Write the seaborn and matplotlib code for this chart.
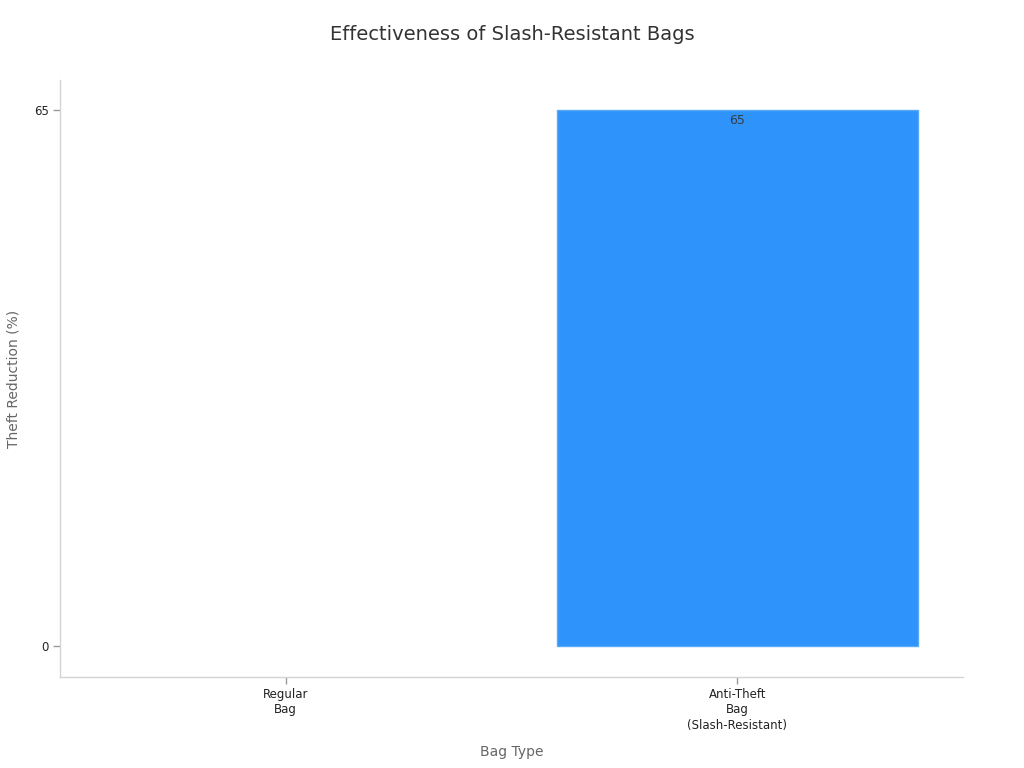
import matplotlib
matplotlib.use("Agg")
import matplotlib.pyplot as plt
import seaborn as sns
import pandas as pd

# chart data
categories = ["Regular\nBag", "Anti-Theft\nBag\n(Slash-Resistant)"]
theft_reduction = [0, 65]
y_ticks = [0, 65]

df = pd.DataFrame({"Bag Type": categories, "Theft Reduction (%)": theft_reduction})

sns.set_style("white")
plt.rcParams["font.family"] = ["DejaVu Sans"]

fig = plt.figure(figsize=(10.24, 7.68), dpi=100)
ax = fig.add_axes([0.0586, 0.1185, 0.8818, 0.7773])

sns.barplot(data=df, x="Bag Type", y="Theft Reduction (%)", color="#2E93FA",
            saturation=1, width=0.8, edgecolor="#5aa9fb", linewidth=1, ax=ax)

for p, v in zip(ax.patches, theft_reduction):
    if v > 0:
        ax.text(p.get_x() + p.get_width() / 2, v - 0.55, str(v), ha="center", va="top",
                fontsize=9, color="#373d3f")
    else:
        p.set_linewidth(0)

ax.set_xlim(-0.5, 1.5)
ax.set_ylim(-3.7, 68.6)
ax.set_yticks(y_ticks)

for s in ["top", "right"]:
    ax.spines[s].set_visible(False)
for s in ["left", "bottom"]:
    ax.spines[s].set_color("#d4d4d4")
    ax.spines[s].set_linewidth(1)

ax.tick_params(axis="both", bottom=True, left=True, length=5, width=1, color="#999999",
               labelsize=8.5, labelcolor="#222222", pad=3)
for t in ax.get_xticklabels():
    t.set_linespacing(1.22)

ax.set_xlabel("Bag Type", fontsize=10, color="#666666", labelpad=10)
ax.set_ylabel("Theft Reduction (%)", fontsize=10, color="#666666", labelpad=10)
fig.suptitle("Effectiveness of Slash-Resistant Bags", fontsize=14, color="#333333",
             y=0.968)

fig.savefig("out.png", dpi=100)
